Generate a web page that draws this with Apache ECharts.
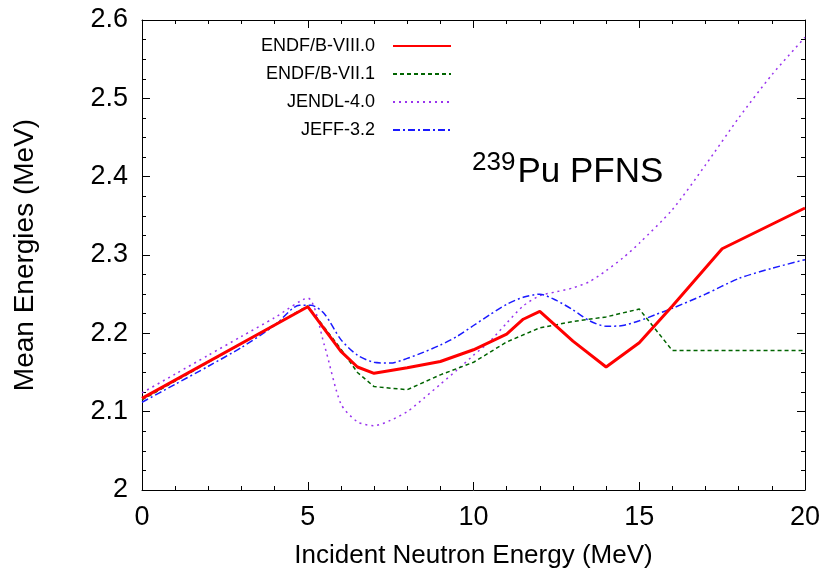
<!DOCTYPE html>
<html><head><meta charset="utf-8">
<script src="https://cdn.jsdelivr.net/npm/echarts@6/dist/echarts.min.js"></script>
<style>html,body{margin:0;padding:0;background:#fff}#c{width:825px;height:578px}</style>
</head><body><div id="c"></div>
<script>
const seriesNames = ['ENDF/B-VIII.0','ENDF/B-VII.1','JENDL-4.0','JEFF-3.2'];
const xTicks = [0,5,10,15,20];
const yTicks = [2,2.1,2.2,2.3,2.4,2.5,2.6];

const endf80X = [0,5,6,6.5,7,8,9,10,11,11.5,12,13,14,15,16,17.5,20];
const endf80Y = [2.117,2.234,2.177,2.157,2.149,2.156,2.164,2.179,2.199,2.218,2.228,2.19,2.157,2.188,2.235,2.308,2.36];

const endf71X = [0,5,6,6.5,7,8,9,10,11,12,13,14,15,16,20];
const endf71Y = [2.115,2.235,2.18,2.15,2.132,2.128,2.147,2.163,2.189,2.207,2.215,2.221,2.231,2.178,2.178];

const jendlX = [0,1,2,3,4,5,5.5,6,6.5,7,7.5,8,8.5,9,9.5,10,10.5,11,11.5,12,12.5,13,13.5,14,14.5,15,16,17,18,19,20];
const jendlY = [2.124,2.148,2.172,2.196,2.22,2.245,2.185,2.11,2.087,2.082,2.089,2.100,2.117,2.135,2.153,2.172,2.19,2.213,2.235,2.248,2.253,2.258,2.266,2.28,2.296,2.315,2.358,2.415,2.475,2.53,2.578];

const jeffX = [0,1,2,3,4,4.75,5.1,5.5,6,6.5,7,7.5,8,8.5,9,9.5,10,10.5,11,11.5,12,12.5,13,13.5,14,14.5,15,15.5,16,17,18,19,20];
const jeffY = [2.112,2.135,2.158,2.182,2.21,2.236,2.236,2.225,2.192,2.172,2.163,2.162,2.168,2.176,2.185,2.196,2.21,2.224,2.237,2.246,2.25,2.242,2.23,2.216,2.209,2.21,2.216,2.224,2.232,2.25,2.27,2.283,2.294];

const zip = (xs, ys) => xs.map((x, i) => [x, ys[i]]);
const FONT = 'Liberation Sans';
const chart = echarts.init(document.getElementById('c'));
const grid = {left:142, right:20, top:20, bottom:88};
const axisCommon = {
  axisLine:{show:true, onZero:false, lineStyle:{color:'#000', width:1}},
  splitLine:{show:false}
};
function legendFor(i, top){
  return {
    data:[seriesNames[i]], orient:'vertical', align:'right', right:368, top:top,
    itemWidth:58, itemHeight:2, selectedMode:false,
    itemStyle:{opacity:0},
    textStyle:{fontFamily:FONT, fontSize:18, color:'#000', padding:[0,13,0,0]}
  };
}
const tickStyle = {inside:true, length:8, lineStyle:{color:'#000'}};
const minorStyle = {show:true, length:4, lineStyle:{color:'#000'}};
chart.setOption({
  animation:false,
  backgroundColor:'#fff',
  grid: grid,
  legend:[legendFor(0,32), legendFor(1,60), legendFor(2,88), legendFor(3,116)],
  xAxis:[
    Object.assign({type:'value', min:0, max:20, interval:5, position:'bottom',
      name:'Incident Neutron Energy (MeV)', nameLocation:'middle', nameGap:53,
      nameTextStyle:{fontFamily:FONT, fontSize:26, color:'#000'},
      axisLabel:{fontFamily:FONT, fontSize:27, color:'#000', margin:14},
      axisTick:tickStyle,
      minorTick:Object.assign({splitNumber:5}, minorStyle)}, axisCommon),
    Object.assign({type:'value', min:0, max:20, interval:5, position:'top',
      axisLabel:{show:false},
      axisTick:tickStyle,
      minorTick:Object.assign({splitNumber:5}, minorStyle)}, axisCommon)
  ],
  yAxis:[
    Object.assign({type:'value', min:2, max:2.6, interval:0.1, position:'left',
      name:'Mean Energies (MeV)', nameLocation:'middle', nameGap:103, nameRotate:90,
      nameTextStyle:{fontFamily:FONT, fontSize:28, color:'#000'},
      axisLabel:{fontFamily:FONT, fontSize:27, color:'#000', margin:14,
        formatter:v => String(Math.round(v*10)/10)},
      axisTick:tickStyle,
      minorTick:Object.assign({splitNumber:4}, minorStyle)}, axisCommon),
    Object.assign({type:'value', min:2, max:2.6, interval:0.1, position:'right',
      axisLabel:{show:false},
      axisTick:tickStyle,
      minorTick:Object.assign({splitNumber:4}, minorStyle)}, axisCommon)
  ],
  graphic:[{
    type:'text', left:472, top:150,
    style:{
      text:'{s|239}{b|Pu PFNS}',
      rich:{
        s:{fontFamily:FONT, fontSize:26, fill:'#000', verticalAlign:'top', padding:[0,2,18,0]},
        b:{fontFamily:FONT, fontSize:35, fill:'#000'}
      }
    }
  }],
  series:[
    {name:seriesNames[0], type:'line', data:zip(endf80X, endf80Y), symbol:'none', z:5,
      lineStyle:{color:'#ff0000', width:3}, itemStyle:{color:'#ff0000'}},
    {name:seriesNames[1], type:'line', data:zip(endf71X, endf71Y), symbol:'none', z:4,
      lineStyle:{color:'#006400', width:1.5, type:[4,3]}, itemStyle:{color:'#006400'}},
    {name:seriesNames[2], type:'line', data:zip(jendlX, jendlY), symbol:'none', smooth:0.25, z:3,
      lineStyle:{color:'#9933ee', width:1.5, type:[2,4]}, itemStyle:{color:'#9933ee'}},
    {name:seriesNames[3], type:'line', data:zip(jeffX, jeffY), symbol:'none', smooth:0.25, z:3,
      lineStyle:{color:'#1a1aff', width:1.5, type:[7,3,2,3]}, itemStyle:{color:'#1a1aff'}}
  ]
});
</script></body></html>
